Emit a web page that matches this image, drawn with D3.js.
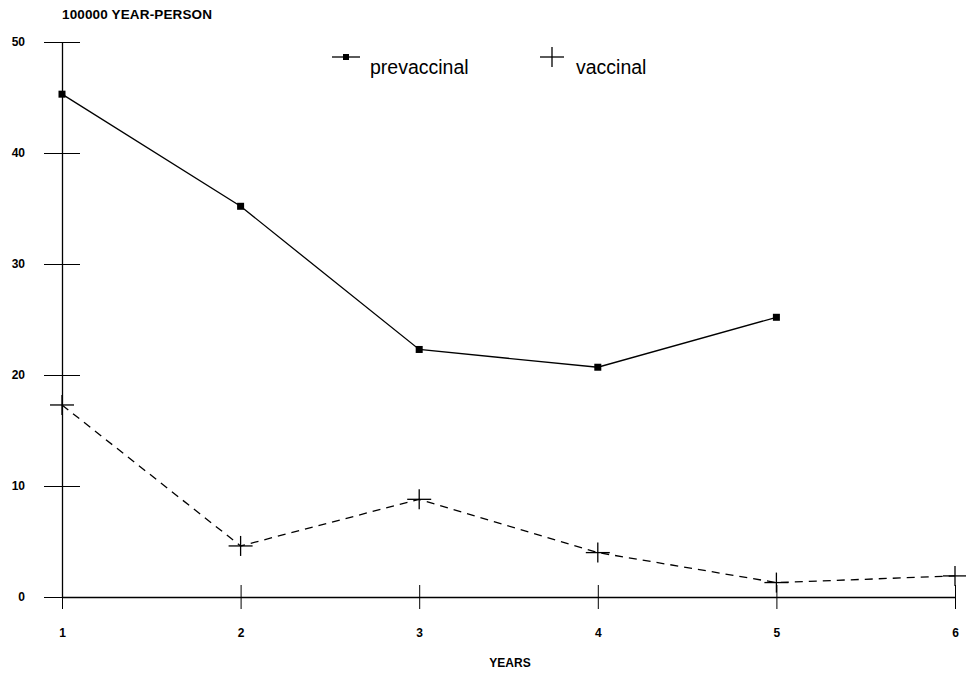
<!DOCTYPE html>
<html>
<head>
<meta charset="utf-8">
<script src="https://cdn.jsdelivr.net/npm/d3@7"></script>
<style>
  body { margin: 0; background: #fff; }
  svg text { font-family: "Liberation Sans", Arial, sans-serif; fill: #000; }
</style>
</head>
<body>
<div id="chart"></div>
<script>
// data
var years = [1, 2, 3, 4, 5, 6];
var prevaccinal = [45.3, 35.2, 22.3, 20.7, 25.2];
var vaccinal = [17.3, 4.6, 8.8, 4.0, 1.3, 1.9];
var yTicks = [0, 10, 20, 30, 40, 50];

var width = 966, height = 674;
var margin = {top: 42, right: 11, bottom: 77, left: 62};

var svg = d3.select("#chart").append("svg")
    .attr("width", width)
    .attr("height", height);

var x = d3.scaleLinear().domain([1, 6]).range([margin.left, width - margin.right]);
var y = d3.scaleLinear().domain([0, 50]).range([height - margin.bottom, margin.top]);

// y axis, ticks crossing the line
var yAxis = svg.append("g")
    .attr("transform", "translate(" + x(1) + ",0)")
    .call(d3.axisLeft(y).tickValues(yTicks).tickSizeInner(18).tickSizeOuter(0).tickPadding(19));
yAxis.selectAll(".tick line").attr("x1", -18).attr("x2", 18);
yAxis.select(".domain").attr("stroke-width", 1.3);
yAxis.selectAll(".tick text").style("font-size", "12px").style("font-weight", "bold");

// x axis
var xAxis = svg.append("g")
    .attr("transform", "translate(0," + y(0) + ")")
    .call(d3.axisBottom(x).tickValues(years).tickFormat(d3.format("d"))
        .tickSizeInner(12).tickSizeOuter(0).tickPadding(19));
xAxis.selectAll(".tick line").attr("y1", -12);
xAxis.select(".domain").attr("stroke-width", 1.3);
xAxis.selectAll(".tick text").style("font-size", "12px").style("font-weight", "bold");

// titles
svg.append("text")
    .attr("x", 62).attr("y", 19)
    .style("font-size", "13.5px").style("font-weight", "bold")
    .attr("textLength", 150)
    .text("100000 YEAR-PERSON");

svg.append("text")
    .attr("x", 510).attr("y", 667)
    .attr("text-anchor", "middle")
    .style("font-size", "12px").style("font-weight", "bold")
    .text("YEARS");

// lines
var line = d3.line()
    .x(function(d, i) { return x(years[i]); })
    .y(function(d) { return y(d); });

svg.append("path")
    .datum(prevaccinal)
    .attr("d", line)
    .attr("fill", "none")
    .attr("stroke", "#000")
    .attr("stroke-width", 1.3);

svg.append("path")
    .datum(vaccinal)
    .attr("d", line)
    .attr("fill", "none")
    .attr("stroke", "#000")
    .attr("stroke-width", 1.3)
    .attr("stroke-dasharray", "8,6");

// markers
svg.selectAll(".pre")
    .data(prevaccinal)
    .enter().append("rect")
    .attr("class", "pre")
    .attr("x", function(d, i) { return x(years[i]) - 3.5; })
    .attr("y", function(d) { return y(d) - 3.5; })
    .attr("width", 7).attr("height", 7)
    .attr("fill", "#000");

function cross(g, cx, cy) {
    g.append("line").attr("x1", cx - 12).attr("x2", cx + 12).attr("y1", cy).attr("y2", cy)
        .attr("stroke", "#000").attr("stroke-width", 1.3);
    g.append("line").attr("x1", cx).attr("x2", cx).attr("y1", cy - 10).attr("y2", cy + 10)
        .attr("stroke", "#000").attr("stroke-width", 1.3);
}

var crosses = svg.append("g");
vaccinal.forEach(function(d, i) { cross(crosses, x(years[i]), y(d)); });

// legend
var legend = svg.append("g");
legend.append("line").attr("x1", 332).attr("x2", 360).attr("y1", 57).attr("y2", 57)
    .attr("stroke", "#000").attr("stroke-width", 1.3);
legend.append("rect").attr("x", 343).attr("y", 54).attr("width", 6).attr("height", 6).attr("fill", "#000");
legend.append("text").attr("x", 370).attr("y", 74).style("font-size", "19.5px").text("prevaccinal");

cross(legend, 552, 57);
legend.append("text").attr("x", 576).attr("y", 74).style("font-size", "19.5px").text("vaccinal");
</script>
</body>
</html>
